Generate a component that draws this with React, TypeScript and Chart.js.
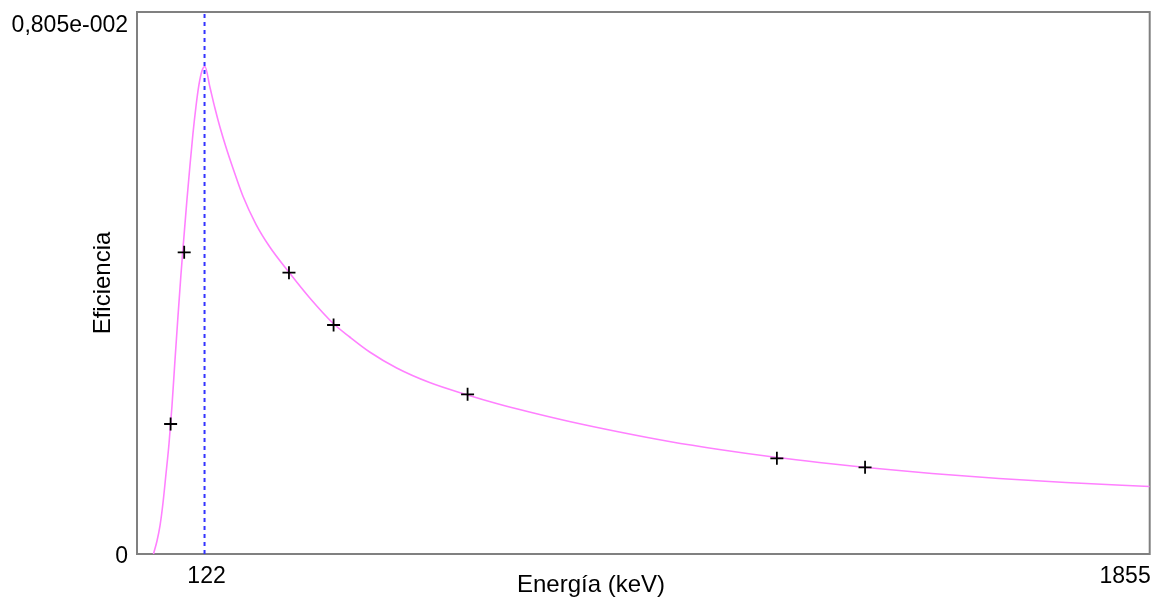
import React, { useEffect, useRef } from "react";
import { Chart, registerables } from "chart.js";

Chart.register(...registerables);

// Axis range and tick labels
const X_MAX = 1855;
const Y_MAX = 0.00805;
const MARKER_ENERGY = 122;
const Y_TICK_LABELS = ["0", "0,805e-002"];
const X_TICK_LABELS = ["122", "1855"];
const X_TITLE = "Energía (keV)";
const Y_TITLE = "Eficiencia";

// Fitted efficiency curve
const curveEnergy = [
  28.4, 34.8, 40.3, 45.8, 51.3, 56.8, 62.3, 67.7, 73.2, 78.7, 84.2, 89.7, 95.2,
  100.7, 106.2, 111.7, 117.2, 122.7, 131.8, 141.0, 150.2, 161.2, 174.0, 192.3,
  216.1, 241.7, 276.5, 315.0, 357.1, 388.2, 424.8, 474.3, 534.7, 604.3, 657.4,
  717.8, 791.1, 882.6, 974.2, 1065.8, 1172.0, 1248.9, 1335.0, 1455.8, 1578.5,
  1701.2, 1855.0,
];
const curveEff = [
  0.0, 0.000193, 0.000416, 0.000757, 0.001188, 0.001634, 0.002198, 0.002867,
  0.00352, 0.004144, 0.004708, 0.005258, 0.005763, 0.006238, 0.006639,
  0.006966, 0.007174, 0.007241, 0.006936, 0.006624, 0.006342, 0.006045,
  0.005733, 0.005317, 0.004901, 0.00456, 0.004188, 0.003802, 0.003431,
  0.003223, 0.003, 0.002763, 0.002547, 0.002362, 0.002235, 0.002109, 0.001968,
  0.001812, 0.001671, 0.001552, 0.001433, 0.001359, 0.001285, 0.001196,
  0.001121, 0.001062, 0.001003,
];

// Measured calibration points
const measEnergy = [59.8, 84.7, 276.8, 358.6, 604.3, 1171.4, 1333.1];
const measEff = [0.001931, 0.004481, 0.004178, 0.003401, 0.002372, 0.001421, 0.001288];

const TICK_FONT = "23px 'Liberation Sans', Arial, sans-serif";
const TITLE_FONT = "24px 'Liberation Sans', Arial, sans-serif";

const textPlugin = {
  id: "customText",
  beforeDatasetsDraw(chart: any) {
    const { ctx, chartArea } = chart;
    ctx.save();
    ctx.strokeStyle = "#808080";
    ctx.lineWidth = 2;
    ctx.strokeRect(chartArea.left - 1, chartArea.top, chartArea.right - chartArea.left + 1, chartArea.bottom - chartArea.top);
    ctx.restore();
  },
  afterDraw(chart: any) {
    const { ctx, chartArea, scales } = chart;
    const x = scales.x;
    ctx.save();
    ctx.fillStyle = "#000";
    ctx.font = TICK_FONT;
    ctx.textBaseline = "alphabetic";
    // y tick labels
    ctx.textAlign = "right";
    ctx.fillText(Y_TICK_LABELS[1], chartArea.left - 10, chartArea.top + 20);
    ctx.fillText(Y_TICK_LABELS[0], chartArea.left - 10, chartArea.bottom + 9);
    // x tick labels
    ctx.textAlign = "center";
    ctx.fillText(X_TICK_LABELS[0], x.getPixelForValue(MARKER_ENERGY) + 2, chartArea.bottom + 29);
    ctx.textAlign = "right";
    ctx.fillText(X_TICK_LABELS[1], chartArea.right + 1, chartArea.bottom + 29);
    // x title
    ctx.font = TITLE_FONT;
    ctx.textAlign = "center";
    ctx.fillText(X_TITLE, 591, chartArea.bottom + 38);
    // y title
    ctx.translate(110, 283);
    ctx.rotate(-Math.PI / 2);
    ctx.fillText(Y_TITLE, 0, 0);
    ctx.restore();
  },
};

export default function App() {
  const ref = useRef<HTMLCanvasElement | null>(null);
  useEffect(() => {
    if (!ref.current) return;
    const chart = new Chart(ref.current, {
      type: "scatter",
      data: {
        datasets: [
          {
            label: "Puntos",
            data: measEnergy.map((e, i) => ({ x: e, y: measEff[i] })),
            pointStyle: "cross",
            pointRadius: 6.5,
            borderColor: "#000",
            backgroundColor: "#000",
            borderWidth: 1.8,
            showLine: false,
          },
          {
            label: "Marcador",
            data: [
              { x: MARKER_ENERGY, y: 0 },
              { x: MARKER_ENERGY, y: Y_MAX },
            ],
            showLine: true,
            borderColor: "#3333ff",
            borderWidth: 2,
            borderDash: [4, 4],
            pointRadius: 0,
          },
          {
            label: "Curva",
            data: curveEnergy.map((e, i) => ({ x: e, y: curveEff[i] })),
            showLine: true,
            borderColor: "#ff80ff",
            borderWidth: 1.6,
            pointRadius: 0,
            cubicInterpolationMode: "monotone",
          },
        ],
      },
      options: {
        animation: false,
        responsive: false,
        events: [],
        layout: { padding: { left: 138, right: 7, top: 12, bottom: 45 } },
        plugins: { legend: { display: false }, tooltip: { enabled: false } },
        scales: {
          x: { type: "linear", min: 0, max: X_MAX, display: false },
          y: { type: "linear", min: 0, max: Y_MAX, display: false },
        },
      },
      plugins: [textPlugin],
    } as any);
    return () => chart.destroy();
  }, []);
  return (
    <div style={{ position: "fixed", left: 0, top: 0, width: 1158, height: 599, background: "#fff" }}>
      <canvas ref={ref} width={1158} height={599} />
    </div>
  );
}
